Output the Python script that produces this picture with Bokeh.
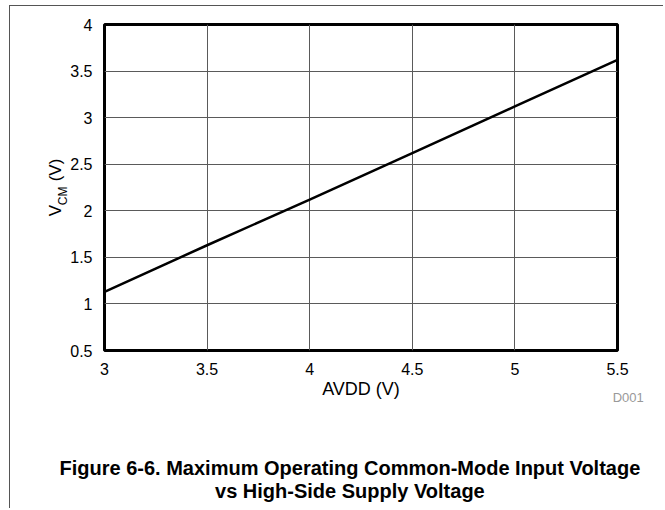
from bokeh.plotting import figure
from bokeh.models import Range1d, FixedTicker, LinearAxis
from bokeh.embed import file_html
from bokeh.resources import INLINE

avdd = [3.0, 3.5, 4.0, 4.5, 5.0, 5.5]
vcm = [1.13, 1.63, 2.12, 2.62, 3.12, 3.62]
x_ticks = [3, 3.5, 4, 4.5, 5, 5.5]
y_ticks = [0.5, 1, 1.5, 2, 2.5, 3, 3.5, 4]
x_label = "AVDD (V)"
y_label_main = "V"
y_label_sub = "CM"
y_label_unit = "(V)"
caption1 = "Figure 6-6. Maximum Operating Common-Mode Input Voltage"
caption2 = "vs High-Side Supply Voltage"
code = "D001"

FONT = "Liberation Sans"
NB = "\u00a0"
W, H = 654, 503
ML, MR, MT, MB = 94, 47, 18, 159

p = figure(width=W, height=H, output_backend="svg", toolbar_location=None,
           x_range=Range1d(3, 5.5), y_range=Range1d(0.5, 4),
           min_border_left=ML, min_border_right=MR, min_border_top=MT, min_border_bottom=MB)
p.styles = {"margin-left": "9px", "margin-top": "5px",
            "border-left": "1.5px solid #555", "border-top": "1.5px solid #555"}
p.background_fill_color = "white"
p.border_fill_color = "white"
p.outline_line_color = "black"
p.outline_line_width = 3

p.line(avdd, vcm, line_color="black", line_width=2.5)

for ax in (p.xaxis[0], p.yaxis[0]):
    ax.axis_line_color = None
    ax.major_tick_line_color = None
    ax.minor_tick_line_color = None
    ax.major_label_text_font = FONT
    ax.major_label_text_font_size = "16px"
    ax.major_label_text_color = "black"

p.xaxis.ticker = FixedTicker(ticks=x_ticks)
p.yaxis.ticker = FixedTicker(ticks=y_ticks)
p.xaxis.major_label_standoff = 6
p.yaxis.major_label_standoff = 6
p.xaxis.axis_label = x_label
p.xaxis.axis_label_text_font = FONT
p.xaxis.axis_label_text_font_size = "18px"
p.xaxis.axis_label_text_font_style = "normal"
p.xaxis.axis_label_text_color = "black"
p.xaxis.axis_label_standoff = 1

p.grid.grid_line_color = "#5a5a5a"
p.grid.grid_line_width = 1
p.xgrid.ticker = FixedTicker(ticks=x_ticks)
p.ygrid.ticker = FixedTicker(ticks=y_ticks)

# label-only axes used to place texts outside the plot frame
def label_axis(text, size, standoff, style="normal", color="black"):
    a = LinearAxis(ticker=FixedTicker(ticks=[]), axis_label=text)
    a.axis_line_color = None
    a.major_tick_line_color = None
    a.minor_tick_line_color = None
    a.major_tick_out = 0
    a.major_tick_in = 0
    a.major_label_standoff = 0
    a.axis_label_text_font = FONT
    a.axis_label_text_font_size = size
    a.axis_label_text_font_style = style
    a.axis_label_text_color = color
    a.axis_label_standoff = standoff
    return a

# y-axis title V_CM (V)
p.add_layout(label_axis(y_label_sub + NB * 5, "12px", -2), "left")
p.add_layout(label_axis(y_label_main + NB * 5 + y_label_unit, "17px", -12), "left")

# footer texts
p.add_layout(label_axis(NB * 148 + code, "13px", -12, color="#999999"), "below")
p.add_layout(label_axis(caption1 + NB * 4, "20px", 49, style="bold"), "below")
p.add_layout(label_axis(caption2 + NB * 4, "20px", -2, style="bold"), "below")

open("out.html", "w").write(file_html(p, INLINE))
